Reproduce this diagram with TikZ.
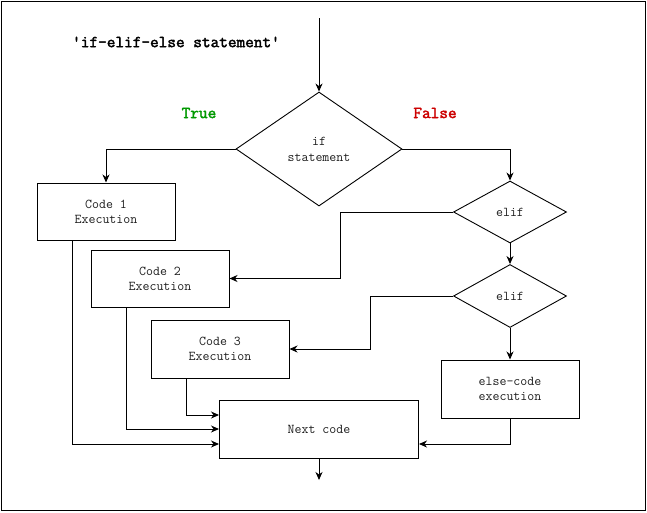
\documentclass[tikz,border=0pt]{standalone}
\usepackage{fontspec}
\newfontfamily\codefont{Latin Modern Mono}
\newfontfamily\boldcodefont{Latin Modern Mono}[FakeBold=2.2]
\usetikzlibrary{shapes.geometric,arrows.meta}
\definecolor{truegreen}{RGB}{0,153,0}
\definecolor{falsered}{RGB}{204,0,0}
\definecolor{txt}{RGB}{30,30,30}
\begin{document}
\begin{tikzpicture}[x=1pt,y=-1pt,
  codebox/.style={draw=black,line width=1pt,rectangle,minimum width=138pt,minimum height=57pt,inner sep=0pt,align=center,font=\codefont\fontsize{13.5}{15}\selectfont,text=txt},
  decision/.style={draw=black,line width=0.9pt,diamond,inner sep=0pt,align=center,font=\codefont\fontsize{13.5}{16}\selectfont,text=txt},
  arr/.style={draw=black,line width=1pt,-{Stealth[length=8pt,width=7pt,inset=2.5pt]}},
  lbl/.style={font=\boldcodefont\fontsize{16.8}{18}\selectfont}]
\draw[line width=1pt] (1,1) rectangle (645,510);
\useasboundingbox (0,0) rectangle (647,512);
\node[lbl,text=black] (title) at (176,42) {'if-elif-else statement'};
\node[lbl,text=truegreen] (truelbl) at (199,113) {True};
\node[lbl,text=falsered] (falselbl) at (435,113) {False};
\coordinate (start) at (319,18);
\coordinate (stop) at (319,480);
\node[decision,minimum width=166pt,minimum height=114pt] (if) at (319,149) {if\\statement};
\node[decision,minimum width=113pt,minimum height=62pt] (e1) at (510,212) {elif};
\node[decision,minimum width=113pt,minimum height=63pt] (e2) at (510,296) {elif};
\node[codebox] (c1) at (106,211.5) {Code 1\\Execution};
\node[codebox] (c2) at (160,278.5) {Code 2\\Execution};
\node[codebox,minimum height=58pt] (c3) at (220,349) {Code 3\\Execution};
\node[codebox,minimum width=199pt,minimum height=58pt] (nx) at (319,429) {Next code};
\node[codebox,minimum height=58pt] (el) at (510,389) {else-code\\execution};
\draw[arr] (start) -- (if.north);
\draw[arr] (if.west) -| (c1.north);
\draw[arr] (if.east) -| (e1.north);
\draw[arr] (e1.west) -- ++(-113,0) |- (c2.east);
\draw[arr] (e1.south) -- (e2.north);
\draw[arr] (e2.west) -- ++(-83,0) |- (c3.east);
\draw[arr] (e2.south) -- (el.north);
\draw[arr] ([xshift=-34pt]c3.south) |- ([yshift=14pt]nx.west);
\draw[arr] ([xshift=-34pt]c2.south) |- (nx.west);
\draw[arr] ([xshift=-34pt]c1.south) |- ([yshift=-15pt]nx.west);
\draw[arr] (el.south) |- ([yshift=-15pt]nx.east);
\draw[arr] (nx.south) -- (stop);
\end{tikzpicture}
\end{document}
